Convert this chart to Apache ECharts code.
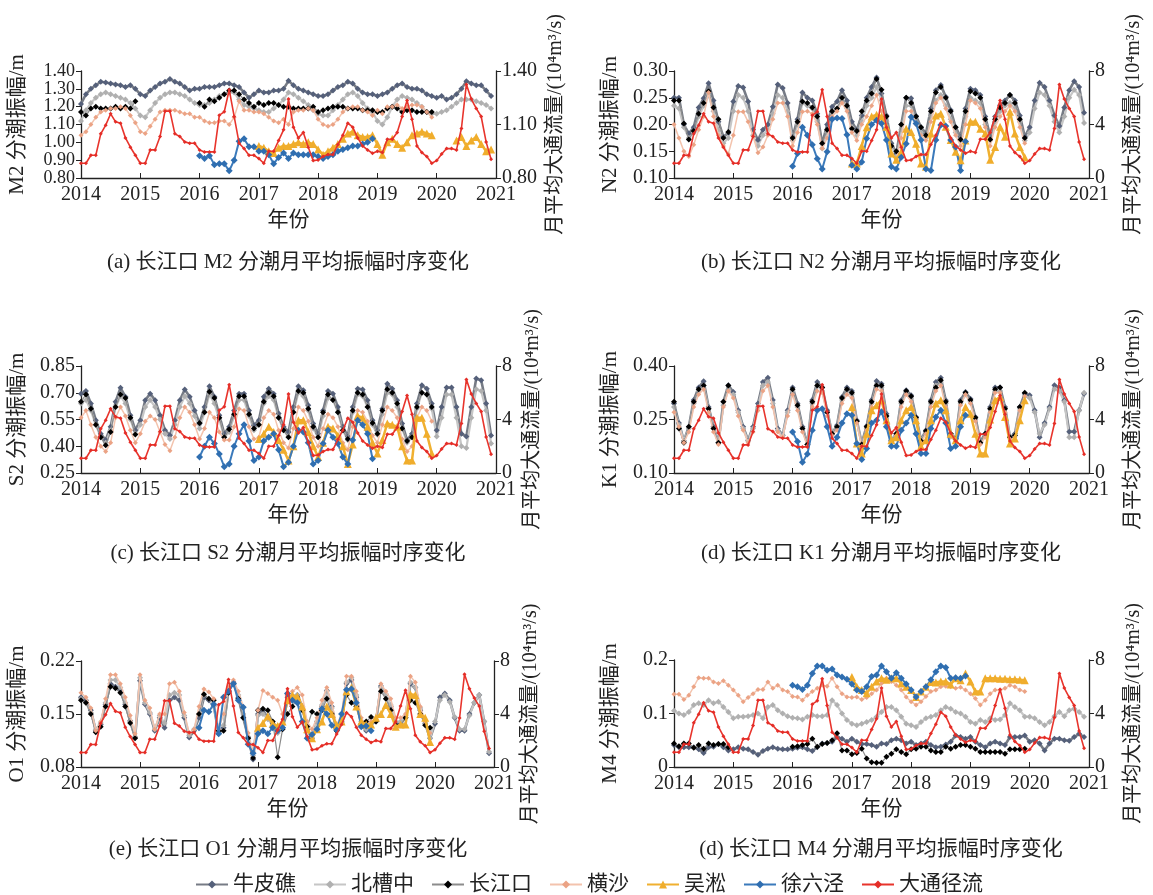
<!DOCTYPE html>
<html><head><meta charset="utf-8">
<script src="https://cdn.jsdelivr.net/npm/echarts@6/dist/echarts.min.js"></script>
<style>html,body{margin:0;padding:0;background:#fff}#c{width:1153px;height:895px}</style>
</head><body><div id="c"></div>
<script>
const FONT = "'Liberation Serif','Times New Roman','Noto Sans CJK SC',serif";
const stationNames = ['牛皮礁','北槽中','长江口','横沙','吴淞','徐六泾'];
const flowName = '大通径流';
const stationStart = [2014, 2014, 2014, 2014, 2017, 2016];
const yearTicks = [2014, 2015, 2016, 2017, 2018, 2019, 2020, 2021];
const xTickLabels = ['2014','2015','2016','2017','2018','2019','2020','2021'];
const m2TickLabels = ['0.80','0.90','1.00','1.10','1.20','1.30','1.40'];
const n2TickLabels = ['0.10','0.15','0.20','0.25','0.30'];
const s2TickLabels = ['0.25','0.40','0.55','0.70','0.85'];
const k1TickLabels = ['0.10','0.25','0.40'];
const o1TickLabels = ['0.08','0.15','0.22'];
const m4TickLabels = ['0','0.1','0.2'];
const flowTicks = [0, 4, 8];
const flowTickLabels = ['0','4','8'];
const flowTickLabelsA = ['0.80','1.10','1.40'];
const captions = ['(a) 长江口 M2 分潮月平均振幅时序变化','(b) 长江口 N2 分潮月平均振幅时序变化','(c) 长江口 S2 分潮月平均振幅时序变化','(d) 长江口 K1 分潮月平均振幅时序变化','(e) 长江口 O1 分潮月平均振幅时序变化','(d) 长江口 M4 分潮月平均振幅时序变化'];
const yNames = ['M2 分潮振幅/m','N2 分潮振幅/m','S2 分潮振幅/m','K1 分潮振幅/m','O1 分潮振幅/m','M4 分潮振幅/m'];
const rightName = '月平均大通流量/(10⁴m³/s)';
const xName = '年份';
const N = null;

// 大通径流 monthly mean discharge (10^4 m3/s), Jan 2014 - Dec 2020
const flow = [
1.1,1.1,1.7,1.7,3.3,3.95,4.8,4.2,4.1,3.0,2.3,1.7,
1.1,1.1,2.1,2.1,3.1,5.0,5.0,3.3,3.1,2.7,2.6,2.6,
2.1,1.95,1.95,1.95,4.7,4.95,6.6,4.6,2.6,2.2,1.7,1.7,
1.45,1.1,2.0,2.0,2.8,3.6,5.9,3.8,3.0,3.4,2.3,1.3,
1.35,1.6,1.75,1.75,2.5,3.2,4.1,3.8,3.0,2.4,2.1,1.85,
2.0,1.9,2.9,2.9,3.4,4.6,5.8,4.4,2.4,1.9,1.6,1.1,
1.3,1.8,2.2,2.2,2.1,3.7,7.0,5.9,5.2,4.6,2.7,1.4];

// ---- M2 ----
const m2_npj = [
1.215,1.27,1.30,1.32,1.34,1.335,1.33,1.325,1.32,1.31,1.32,1.30,
1.27,1.26,1.29,1.31,1.33,1.34,1.355,1.34,1.33,1.31,1.29,1.30,
1.30,1.31,1.31,1.31,1.32,1.33,1.33,1.32,1.31,1.28,1.25,1.27,
1.29,1.28,1.28,1.29,1.29,1.30,1.345,1.32,1.30,1.29,1.28,1.27,
1.26,1.26,1.27,1.29,1.31,1.32,1.34,1.33,1.30,1.28,1.27,1.27,
1.26,1.27,1.28,1.30,1.32,1.33,1.31,1.30,1.30,1.29,1.27,1.26,
1.25,1.26,1.24,1.25,1.27,1.30,1.343,1.33,1.32,1.32,1.29,1.26];
const m2_bcz = [
1.12,1.18,1.22,1.25,1.27,1.28,1.27,1.26,1.25,1.24,1.22,1.19,
1.15,1.14,1.18,1.22,1.25,1.27,1.28,1.28,1.27,1.26,1.24,1.22,
1.21,1.21,1.22,1.24,1.26,1.27,1.28,1.28,1.24,1.21,1.20,1.19,
1.18,1.17,1.17,1.19,1.21,1.24,1.28,1.27,1.25,1.23,1.21,1.18,
1.16,1.15,1.15,1.18,1.21,1.24,1.27,1.28,1.26,1.22,1.19,1.17,
1.12,1.10,1.14,1.20,1.24,1.26,1.25,1.24,1.22,1.20,1.17,1.16,
1.16,1.17,1.18,1.20,1.22,1.24,1.24,1.24,1.23,1.22,1.21,1.19];
const m2_cjk = [
1.17,1.15,1.19,1.20,1.19,1.19,1.19,1.20,1.19,1.20,1.19,1.23,
N,N,N,N,N,N,N,N,N,N,N,N,
1.22,1.20,1.24,1.23,1.25,1.27,1.29,1.29,1.27,1.24,1.22,1.20,
1.22,1.21,1.22,1.22,1.21,1.20,1.20,1.19,1.19,1.19,1.19,1.20,
1.17,1.18,1.19,1.20,1.20,1.20,1.19,1.19,1.19,1.18,1.18,1.18,
1.17,1.17,1.19,1.20,1.19,1.17,1.18,1.18,1.17,1.17,1.17,1.17];
const m2_hs = [
1.04,1.06,1.10,1.14,1.17,1.18,1.19,1.19,1.20,1.19,1.15,1.11,
1.06,1.05,1.09,1.13,1.17,1.18,1.18,1.18,1.17,1.16,1.16,1.14,
1.14,1.12,1.11,1.11,1.12,1.12,1.10,1.14,1.23,1.18,1.18,1.17,
1.17,1.16,1.14,1.12,1.11,1.13,1.10,1.17,1.18,1.18,1.19,1.18,
1.13,1.10,1.09,1.10,1.13,1.17,1.19,1.20,1.20,1.18,1.17,1.15,
1.18,1.16,1.20,1.20,1.21,1.19,1.20,1.21,1.21,1.20,1.17,1.14];
const m2_ws = [
0.98,0.97,0.95,0.94,0.97,0.98,0.98,0.99,1.00,0.99,1.00,0.99,
0.96,0.93,0.95,0.97,0.99,1.02,1.05,1.06,1.04,1.03,1.03,1.04,
0.99,0.93,1.00,1.02,0.99,0.97,1.00,1.04,1.05,1.06,1.05,1.04,
N,N,N,N,1.01,1.03,0.98,1.01,1.03,0.99,0.95,0.96];
const m2_xlj = [
0.925,0.91,0.925,0.875,0.88,0.88,0.84,0.90,1.006,1.02,0.975,0.975,
0.95,0.95,0.93,0.88,0.915,0.94,0.91,0.94,0.93,0.93,0.93,0.93,
0.92,0.91,0.92,0.93,0.95,0.96,0.97,0.98,0.98,0.99,1.00,1.02];

// ---- N2 ----
const n2_npj = [
.250,.250,.200,.183,.195,.232,.249,.277,.245,.205,.177,.184,
.243,.272,.269,.243,.190,.171,.190,.200,.233,.275,.268,.240,
.177,.210,.260,.250,.245,.220,.164,.200,.233,.243,.264,.245,
.205,.190,.217,.250,.270,.288,.258,.217,.165,.146,.200,.250,
.249,.216,.195,.183,.230,.264,.274,.252,.227,.195,.177,.230,
.267,.264,.255,.215,.178,.215,.236,.245,.255,.245,.217,.177,
.195,.245,.278,.270,.245,.217,.197,.232,.264,.281,.270,.222];
const n2_bcz = [
.235,.230,.195,.175,.185,.215,.235,.255,.225,.190,.165,.175,
.225,.255,.250,.225,.180,.160,.180,.190,.220,.255,.250,.225,
.170,.200,.240,.235,.230,.205,.155,.185,.220,.230,.245,.230,
.195,.180,.205,.235,.250,.270,.245,.205,.160,.140,.190,.235,
.235,.205,.185,.175,.215,.245,.255,.235,.210,.185,.170,.215,
.250,.245,.240,.200,.170,.205,.225,.235,.240,.230,.205,.170,
.185,.230,.260,.255,.235,.205,.185,.215,.250,.265,.255,.203];
const n2_cjk = [
.245,.245,.202,.172,.188,.220,.240,.262,.232,.210,.175,.186,
N,N,N,N,N,N,N,N,N,N,N,N,
.175,.205,.243,.240,.232,.215,.165,.190,.225,.230,.250,.235,
.192,.188,.225,.245,.258,.285,.265,.215,.160,.150,.200,.250,
.240,.215,.195,.180,.225,.260,.270,.250,.225,.195,.172,.225,
.262,.258,.250,.210,.172,.210,.232,.240,.255,.240,.210,.175];
const n2_hs = [
.200,.175,.150,.140,.162,.190,.215,.260,.215,.180,.160,.145,
.180,.224,.224,.205,.178,.147,.158,.180,.210,.240,.240,.215,
.160,.185,.224,.225,.220,.200,.155,.175,.215,.225,.240,.225,
.185,.170,.200,.215,.235,.255,.225,.190,.145,.135,.175,.225,
.225,.200,.180,.170,.205,.240,.250,.230,.205,.180,.160,.200,
.245,.240,.230,.195,.160,.195,.215,.225,.235,.225,.195,.165];
const n2_ws = [
.127,.127,.160,.195,.215,.218,.215,.196,.146,.134,.149,.192,
.186,.164,.127,.121,.183,.217,.220,.196,.171,.149,.133,.170,
.205,.205,.192,.183,.134,.158,.196,.177,.224,.183,.158,.139];
const n2_xlj = [
.122,.146,.195,.180,.162,.136,.117,.149,.210,.212,.211,.181,
.124,.117,.130,.174,.200,.208,.202,.171,.121,.117,.139,.164,
.214,.202,.171,.117,.114,.171,.199,.197,.171,.158,.114,.168];

// ---- S2 ----
const s2_npj = [
.695,.710,.640,.546,.470,.435,.510,.650,.728,.677,.574,.490,
.546,.658,.695,.658,.574,.490,.462,.546,.658,.718,.677,.600,
.528,.620,.736,.677,.574,.470,.510,.600,.695,.695,.600,.518,
.546,.677,.723,.695,.583,.510,.480,.620,.736,.714,.630,.528,
.470,.600,.710,.695,.620,.510,.455,.620,.723,.718,.658,.546,
.490,.610,.750,.723,.658,.528,.435,.470,.640,.742,.723,.640,
.490,.620,.729,.729,.620,.470,.455,.620,.780,.770,.640,.460];
const s2_bcz = [
.640,.660,.600,.520,.450,.420,.490,.620,.680,.640,.550,.470,
.520,.620,.660,.620,.550,.470,.440,.520,.620,.680,.640,.570,
.500,.590,.690,.640,.550,.450,.480,.570,.660,.660,.570,.490,
.520,.640,.680,.660,.560,.490,.455,.590,.700,.680,.600,.500,
.450,.570,.670,.660,.590,.490,.435,.590,.690,.680,.620,.520,
.465,.580,.700,.690,.620,.500,.420,.450,.610,.700,.690,.610,
.455,.560,.690,.690,.560,.400,.390,.560,.720,.710,.600,.416];
const s2_cjk = [
.650,.690,.610,.520,.450,.405,.480,.620,.690,.670,.560,.466,
N,N,N,N,N,N,N,N,N,N,N,N,
.530,.590,.705,.670,.560,.450,.495,.580,.680,.680,.580,.500,
.520,.650,.700,.680,.560,.490,.450,.590,.710,.700,.610,.510,
.450,.590,.690,.660,.590,.490,.440,.600,.700,.690,.620,.530,
.470,.600,.720,.700,.640,.500,.430,.450,.620,.700,.690,.620];
const s2_hs = [
.560,.600,.520,.450,.400,.370,.420,.560,.620,.570,.490,.420,
.470,.540,.570,.550,.480,.410,.375,.450,.560,.620,.590,.520,
.440,.500,.590,.560,.480,.435,.435,.510,.610,.600,.510,.440,
.450,.560,.600,.580,.490,.420,.390,.500,.620,.600,.540,.450,
.400,.500,.580,.560,.510,.420,.380,.510,.600,.590,.540,.460,
.420,.520,.620,.600,.560,.440,.370,.400,.560,.620,.600,.540];
const s2_ws = [
.440,.470,.510,.480,.435,.380,.320,.400,.546,.546,.480,.400,
.340,.420,.510,.500,.460,.400,.300,.410,.570,.560,.510,.420,
.360,.435,.528,.520,.510,.400,.320,.320,.560,.560,.470,.360];
const s2_xlj = [
.340,.400,.450,.415,.356,.285,.300,.400,.470,.520,.430,.320,
.340,.430,.450,.470,.380,.285,.310,.400,.490,.480,.420,.300,
.320,.415,.490,.450,.415,.340,.300,.435,.546,.520,.470,.330];

// ---- K1 ----
const k1_npj = [
.295,.240,.190,.230,.305,.340,.357,.285,.230,.185,.300,.346,
.327,.276,.230,.192,.230,.295,.355,.367,.305,.225,.206,.276,
.340,.295,.230,.180,.305,.355,.340,.276,.210,.234,.313,.340,
.330,.248,.183,.232,.305,.358,.350,.266,.192,.210,.304,.332,
.318,.257,.192,.220,.304,.355,.367,.304,.210,.197,.304,.327,
.308,.257,.188,.210,.285,.340,.340,.285,.200,.210,.285,.322,
.318,.276,.200,.240,.285,.346,.340,.304,.216,.216,.276,.322];
const k1_bcz = [
.285,.235,.190,.225,.295,.330,.345,.280,.225,.185,.290,.335,
.320,.270,.225,.190,.225,.285,.345,.355,.295,.220,.205,.270,
.330,.285,.225,.180,.295,.345,.330,.270,.210,.230,.305,.330,
.320,.245,.180,.225,.295,.345,.340,.260,.190,.210,.295,.325,
.310,.250,.190,.215,.295,.345,.355,.295,.210,.195,.295,.320,
.300,.250,.185,.205,.280,.330,.330,.280,.200,.205,.280,.315,
.310,.270,.210,.235,.280,.335,.330,.300,.200,.200,.275,.325];
const k1_cjk = [
.300,.225,.185,.230,.300,.335,.345,.280,.225,.185,.300,.345,
N,N,N,N,N,N,N,N,N,N,N,N,
.335,.290,.225,.180,.300,.345,.340,.270,.210,.230,.310,.335,
.325,.245,.180,.230,.300,.345,.345,.260,.190,.210,.300,.330,
.315,.255,.190,.218,.300,.340,.360,.300,.210,.196,.300,.325,
.305,.255,.185,.210,.280,.335,.340,.280,.200,.205,.285,.325];
const k1_hs = [
.270,.230,.185,.215,.285,.320,.335,.270,.215,.180,.285,.330,
.310,.260,.220,.185,.215,.275,.330,.345,.285,.215,.200,.260,
.320,.275,.215,.175,.285,.330,.325,.260,.205,.220,.295,.320,
.310,.240,.175,.220,.285,.335,.330,.250,.185,.205,.285,.320,
.300,.250,.185,.210,.285,.330,.345,.285,.200,.190,.290,.320,
.295,.245,.180,.200,.270,.325,.325,.270,.195,.200,.275,.315];
const k1_ws = [
.285,.183,.155,.210,.276,.290,.304,.248,.192,.200,.248,.276,
.285,.248,.175,.192,.248,.295,.304,.276,.210,.192,.248,.285,
.266,.210,.155,.155,.250,.304,.313,.257,.183,.197,.248,.304];
const k1_xlj = [
.215,.188,.130,.153,.220,.276,.280,.230,.175,.200,.240,.266,
.262,.183,.138,.169,.240,.248,.272,.230,.175,.175,.220,.240,
.262,.210,.155,.155,.225,.257,.276,.240,.169,.175,.230,.262];

// ---- O1 ----
const o1_npj = [
.172,.168,.155,.128,.136,.163,.190,.186,.181,.163,.141,.119,
.194,.163,.150,.128,.145,.132,.168,.172,.168,.145,.119,.128,
.145,.172,.168,.161,.124,.132,.181,.192,.172,.145,.119,.090,
.150,.155,.145,.137,.128,.132,.172,.168,.175,.160,.130,.118,
.140,.160,.181,.160,.128,.140,.190,.195,.172,.137,.128,.137,
.140,.187,.176,.160,.137,.137,.145,.190,.185,.155,.137,.118,
.137,.172,.177,.168,.145,.128,.128,.150,.165,.175,.140,.098];
const o1_bcz = [
.170,.165,.152,.130,.138,.165,.195,.195,.185,.165,.140,.120,
.198,.165,.152,.130,.148,.138,.175,.178,.175,.148,.122,.130,
.150,.175,.170,.160,.126,.135,.180,.190,.175,.150,.120,.095,
.148,.150,.143,.135,.125,.132,.175,.172,.175,.160,.128,.118,
.140,.162,.180,.158,.130,.142,.192,.198,.175,.140,.130,.138,
.142,.185,.176,.162,.140,.140,.148,.192,.185,.158,.138,.118,
.140,.168,.175,.166,.146,.130,.130,.148,.165,.175,.140,.100];
const o1_cjk = [
.168,.165,.150,.126,.133,.160,.186,.184,.178,.160,.138,.118,
N,N,N,N,N,N,N,N,N,N,N,N,
.150,.176,.170,.168,.128,.128,.178,.190,.170,.145,.118,.092,
.155,.157,.155,.140,.093,.130,.150,.160,.172,.155,.133,.153,
.150,.155,.170,.150,.128,.138,.175,.165,.160,.135,.140,.146,
.140,.180,.170,.155,.135,.135,.145,.168,.165,.150,.135,.132];
const o1_hs = [
.178,.172,.158,.128,.140,.170,.202,.202,.190,.172,.148,.124,
.202,.168,.158,.130,.150,.150,.190,.192,.180,.152,.125,.130,
.160,.183,.179,.170,.130,.150,.185,.195,.180,.160,.125,.100,
.155,.181,.177,.172,.168,.150,.170,.180,.185,.175,.140,.130,
.145,.168,.185,.165,.135,.150,.200,.200,.180,.145,.135,.140,
.145,.190,.180,.170,.145,.145,.150,.200,.192,.160,.140,.125];
const o1_ws = [
.132,.138,.147,.137,.134,.140,.168,.175,.173,.160,.130,.118,
.130,.140,.160,.150,.135,.140,.180,.185,.160,.140,.136,.136,
.145,.150,.162,.150,.133,.136,.136,.176,.175,.150,.145,.113];
const o1_xlj = [
.132,.155,.153,.163,.124,.172,.180,.190,.168,.159,.110,.098,
.124,.128,.124,.132,.128,.132,.177,.168,.165,.140,.118,.123,
.130,.157,.150,.135,.129,.150,.182,.183,.165,.133,.134,.128];

// ---- M4 ----
const m4_npj = [
.041,.037,.037,.037,.037,.033,.026,.037,.038,.043,.037,.031,
.033,.037,.034,.033,.028,.023,.030,.034,.037,.034,.033,.033,
.034,.036,.037,.033,.030,.037,.044,.045,.047,.056,.053,.047,
.053,.047,.043,.043,.041,.038,.044,.043,.050,.053,.050,.044,
.047,.041,.044,.047,.041,.037,.038,.042,.047,.059,.056,.053,
.056,.047,.041,.037,.044,.047,.044,.041,.056,.056,.056,.059,
.047,.050,.044,.031,.044,.053,.053,.050,.049,.056,.062,.056];
const m4_bcz = [
.105,.100,.097,.103,.116,.119,.116,.125,.119,.122,.112,.103,
.091,.094,.094,.095,.097,.100,.091,.112,.116,.106,.100,.095,
.092,.091,.089,.094,.097,.095,.095,.097,.125,.116,.100,.088,
.081,.078,.081,.084,.088,.094,.103,.112,.112,.106,.094,.081,
.078,.075,.084,.091,.094,.097,.106,.112,.109,.103,.100,.094,
.084,.081,.088,.084,.091,.088,.089,.097,.119,.112,.106,.094,
.094,.091,.084,.078,.084,.095,.103,.095,.106,.109,.103,.094];
const m4_cjk = [
.044,.039,.044,.044,.036,.041,.034,.044,.041,.043,.043,.037,
N,N,N,N,N,N,N,N,N,N,N,N,
.038,.039,.041,.043,.053,.038,.043,.045,.050,.063,.031,.031,
.024,.026,.034,.016,.009,.008,.008,.019,.025,.033,.028,.024,
.033,.034,.038,.038,.031,.028,.028,.038,.034,.038,.041,.041,
.038,.034,.028,.028,.028,.028,.028,.025,.033,.033,.033,.034];
const m4_hs = [
.136,.136,.126,.134,.150,.167,.166,.166,.159,.156,.161,.153,
.144,.134,.122,.130,.137,.145,.145,.159,.147,.153,.144,.141,
.132,.131,.125,.134,.141,.147,.153,.151,.166,.150,.137,.131,
.130,.131,.126,.130,.137,.144,.156,.166,.160,.153,.144,.131,
.122,.116,.122,.132,.141,.144,.150,.151,.150,.147,.149,.144,
.137,.128,.116,.125,.137,.144,.144,.147,.153,.150,.144,.141];
const m4_ws = [
.168,.150,.144,.138,.150,.160,.166,.163,.166,.166,.156,.150,
.144,.131,.141,.150,.159,.158,.160,.160,.154,.166,.162,.175,
.160,.141,.141,.166,.166,.166,.165,.165,.164,.164,.163,.162];
const m4_xlj = [
.153,.150,.145,.153,.175,.189,.189,.181,.183,.172,.168,.164,
.155,.144,.141,.150,.169,.172,.189,.178,.166,.176,.166,.155,
.144,.131,.141,.150,.163,.178,.189,.186,.166,.167,.166,.170];

const panels = [
  {grid:{left:81, top:71, width:415, height:107}, yMin:0.8, yMax:1.4, yLabels:m2TickLabels, rLabels:flowTickLabelsA, rGap:50, cx:288, capY:262, lf:18,
   data:[m2_npj,m2_bcz,m2_cjk,m2_hs,m2_ws,m2_xlj]},
  {grid:{left:674, top:71, width:415, height:107}, yMin:0.10, yMax:0.30, yLabels:n2TickLabels, rLabels:flowTickLabels, rGap:35, cx:881, capY:262, lf:20,
   data:[n2_npj,n2_bcz,n2_cjk,n2_hs,n2_ws,n2_xlj]},
  {grid:{left:81, top:366, width:415, height:107}, yMin:0.25, yMax:0.85, yLabels:s2TickLabels, rLabels:flowTickLabels, rGap:27, cx:288, capY:553, lf:20,
   data:[s2_npj,s2_bcz,s2_cjk,s2_hs,s2_ws,s2_xlj]},
  {grid:{left:674, top:366, width:415, height:107}, yMin:0.10, yMax:0.40, yLabels:k1TickLabels, rLabels:flowTickLabels, rGap:35, cx:881, capY:553, lf:20,
   data:[k1_npj,k1_bcz,k1_cjk,k1_hs,k1_ws,k1_xlj]},
  {grid:{left:81, top:661, width:413, height:106}, yMin:0.08, yMax:0.22, yLabels:o1TickLabels, rLabels:flowTickLabels, rGap:27, cx:288, capY:849, lf:20,
   data:[o1_npj,o1_bcz,o1_cjk,o1_hs,o1_ws,o1_xlj]},
  {grid:{left:674, top:660, width:415, height:107}, yMin:0, yMax:0.2, yLabels:m4TickLabels, rLabels:flowTickLabels, rGap:35, cx:881, capY:849, lf:20,
   data:[m4_npj,m4_bcz,m4_cjk,m4_hs,m4_ws,m4_xlj]}
];

const stStyles = [
  {sym:'diamond', size:6, color:'#55607a', line:'#767b85', w:2.6, z:2},
  {sym:'diamond', size:6, color:'#b0b0b0', line:'#c6c6c6', w:2.2, z:2},
  {sym:'diamond', size:6, color:'#000000', line:'#8c8c8c', w:1.2, z:3},
  {sym:'diamond', size:5, color:'#eba385', line:'#f3c3ad', w:1.5, z:3},
  {sym:'triangle', size:8, color:'#f0ad2c', line:'#f0b030', w:2.5, z:4},
  {sym:'diamond', size:7, color:'#2f6eb0', line:'#3b7abb', w:2, z:4}
];
const flowStyle = {sym:'diamond', size:4, color:'#e42d27', line:'#e8342c', w:1.6, z:5};

function toPts(arr, start) {
  return arr.map((v, i) => [start + i / 12, v == null ? '-' : v]);
}
function mkSeries(name, arr, start, gi, yi, s) {
  return {
    name: name, type: 'line', xAxisIndex: gi, yAxisIndex: yi,
    data: toPts(arr, start), symbol: s.sym, symbolSize: s.size, showSymbol: true,
    connectNulls: false, z: s.z,
    itemStyle: {color: s.color},
    lineStyle: {color: s.line, width: s.w},
    emphasis: {disabled: true}, animation: false
  };
}

const txt = '#222';
const grids = [], xAxes = [], yAxes = [], series = [], graphics = [];
panels.forEach((p, gi) => {
  grids.push(Object.assign({}, p.grid));
  xAxes.push({
    type: 'value', gridIndex: gi, min: 2014, max: 2021,
    name: xName, nameLocation: 'middle', nameGap: 32,
    nameTextStyle: {fontFamily: FONT, fontSize: 21, color: txt},
    axisLine: {lineStyle: {color: txt, width: 1.3}},
    axisTick: {inside: true, length: 5, customValues: yearTicks, lineStyle: {color: txt}},
    axisLabel: {customValues: yearTicks, showMinLabel: true, showMaxLabel: true, hideOverlap: false,
      formatter: v => xTickLabels[yearTicks.indexOf(Math.round(v))] || '', fontFamily: FONT, fontSize: 20, color: txt, margin: 7},
    splitLine: {show: false}
  });
  const yVals = p.yLabels.map(Number);
  yAxes.push({
    type: 'value', gridIndex: gi, position: 'left', min: p.yMin, max: p.yMax,
    name: yNames[gi], nameLocation: 'middle', nameGap: 53, nameRotate: 90,
    nameTextStyle: {fontFamily: FONT, fontSize: 21, color: txt},
    axisLine: {show: true, lineStyle: {color: txt, width: 1.3}},
    axisTick: {show: true, length: 5, customValues: yVals, lineStyle: {color: txt}},
    axisLabel: {customValues: yVals, showMinLabel: true, showMaxLabel: true, hideOverlap: false, lineHeight: 12, height: 12,
      formatter: v => { let k = yVals.findIndex(t => Math.abs(t - v) < 1e-9); return k >= 0 ? p.yLabels[k] : ''; }, fontFamily: FONT, fontSize: p.lf, color: txt, margin: 6},
    splitLine: {show: false}
  });
  yAxes.push({
    type: 'value', gridIndex: gi, position: 'right', min: 0, max: 8,
    name: rightName, nameLocation: 'middle', nameGap: p.rGap, nameRotate: 90,
    nameTextStyle: {fontFamily: FONT, fontSize: 20, color: txt},
    axisLine: {show: true, lineStyle: {color: txt, width: 1.3}},
    axisTick: {show: true, length: 5, customValues: flowTicks, lineStyle: {color: txt}},
    axisLabel: {customValues: flowTicks, showMinLabel: true, showMaxLabel: true, hideOverlap: false, lineHeight: 12,
      formatter: v => { let k = flowTicks.indexOf(Math.round(v)); return k >= 0 ? p.rLabels[k] : ''; }, fontFamily: FONT, fontSize: 20, color: txt, margin: 6},
    splitLine: {show: false}
  });
  p.data.forEach((arr, si) => {
    series.push(mkSeries(stationNames[si], arr, stationStart[si], gi, gi * 2, stStyles[si]));
  });
  series.push(mkSeries(flowName, flow, 2014, gi, gi * 2 + 1, flowStyle));
  graphics.push({type: 'text', x: p.cx, y: p.capY, style: {text: captions[gi], fill: txt, font: '21px ' + FONT, align: 'center', verticalAlign: 'middle'}});
});

const chart = echarts.init(document.getElementById('c'), null, {renderer: 'canvas'});
chart.setOption({
  backgroundColor: '#fff',
  animation: false,
  grid: grids, xAxis: xAxes, yAxis: yAxes, series: series,
  graphic: graphics,
  legend: {
    data: stationNames.concat([flowName]), top: 869, left: 190,
    itemWidth: 32, itemHeight: 10, itemGap: 17,
    textStyle: {fontFamily: FONT, fontSize: 21, color: txt}
  }
});
</script></body></html>
